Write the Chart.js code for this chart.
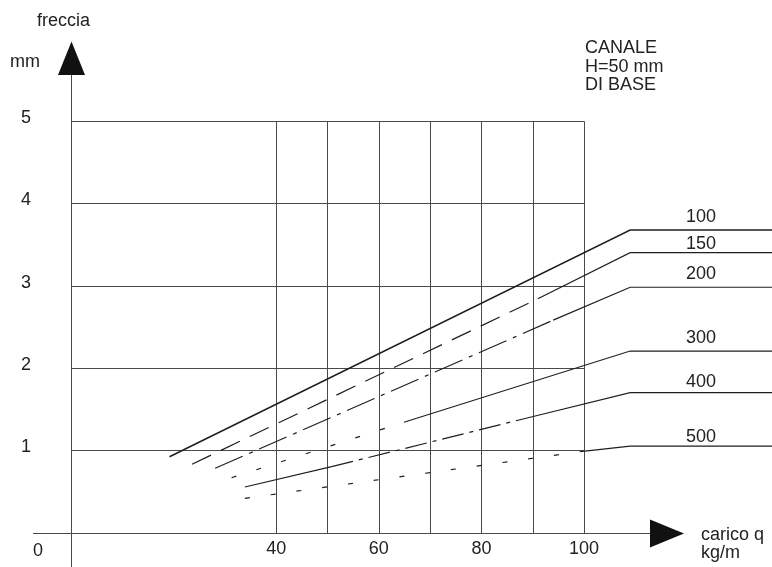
<!DOCTYPE html>
<html>
<head>
<meta charset="utf-8">
<script src="https://cdn.jsdelivr.net/npm/chart.js@4.4.0/dist/chart.umd.min.js"></script>
<style>
  html, body { margin: 0; padding: 0; background: #fff; }
  #wrap { width: 772px; height: 567px; }
</style>
</head>
<body>
<div id="wrap"><canvas id="chart" width="772" height="567"></canvas></div>
<script>
// Grid lines and tick labels (carico q in kg/m, freccia in mm)
const gridQ = [40, 50, 60, 70, 80, 90, 100];
const gridF = [1, 2, 3, 4, 5];
const tickQ = [40, 60, 80, 100];
const tickF = [1, 2, 3, 4, 5];

// One curve per span; the last point is the horizontal leader to the label
const spans = ['100', '150', '200', '300', '400', '500'];
const q100 = [19.2, 109.0, 137];
const f100 = [0.92, 3.675, 3.675];
const q150 = [23.6, 91.0, 109.0, 137];
const f150 = [0.83, 2.84, 3.40, 3.40];
const q200 = [28.1, 94.0, 109.0, 137];
const f200 = [0.78, 2.58, 2.98, 2.98];
const q300 = [31.3, 64.9, 109.0, 137];
const f300 = [0.666, 1.34, 2.205, 2.205];
const q400 = [33.9, 50.8, 90.1, 109.0, 137];
const f400 = [0.553, 0.80, 1.41, 1.70, 1.70];
const q500 = [33.9, 100.2, 109.0, 137];
const f500 = [0.415, 0.99, 1.05, 1.05];

const allQ = [q100, q150, q200, q300, q400, q500];
const allF = [f100, f150, f200, f300, f400, f500];

// Line styles
const SOLID = [];
const DASH = [21, 11];
const DASHDOT = [30, 7, 4, 7];
const DASHDOT2 = [22, 6, 4, 6];
const DOT = [5, 21];
const segDashes = [
    [SOLID, SOLID],
    [DASH, SOLID, SOLID],
    [DASHDOT, SOLID, SOLID],
    [DOT, SOLID, SOLID],
    [SOLID, DASHDOT2, SOLID, SOLID],
    [DOT, SOLID, SOLID]
];
const labelGap = [8, 4, 8, 8, 6, 4];
const FONT = '18px "Liberation Sans", Arial, Helvetica, sans-serif';
const INK = '#222';

const datasets = spans.map((name, i) => ({
    label: name,
    data: allQ[i].map((q, j) => ({ x: q, y: allF[i][j] })),
    borderColor: '#1e1e1e',
    borderWidth: i === 0 ? 1.5 : 1.2,
    pointRadius: 0,
    fill: false,
    tension: 0,
    segment: {
        borderDash: ctx => segDashes[i][ctx.p0DataIndex] || SOLID
    }
}));

function crisp(v) { return Math.round(v) + 0.5; }

const paperPlugin = {
    id: 'paper',
    beforeDatasetsDraw(chart) {
        const { ctx, scales: { x, y } } = chart;
        const x0 = crisp(x.getPixelForValue(0));
        const y0 = crisp(y.getPixelForValue(0));
        ctx.save();
        ctx.strokeStyle = '#4a4a4a';
        ctx.lineWidth = 1;
        ctx.beginPath();
        // horizontal grid
        gridF.forEach(v => {
            const py = crisp(y.getPixelForValue(v));
            ctx.moveTo(x0, py);
            ctx.lineTo(crisp(x.getPixelForValue(100)), py);
        });
        // vertical grid
        gridQ.forEach(v => {
            const px = crisp(x.getPixelForValue(v));
            ctx.moveTo(px, y0);
            ctx.lineTo(px, crisp(y.getPixelForValue(5)));
        });
        // axes
        ctx.moveTo(33, y0);
        ctx.lineTo(655, y0);
        ctx.moveTo(x0, 74);
        ctx.lineTo(x0, 567);
        ctx.stroke();

        // arrow heads
        ctx.fillStyle = '#111';
        ctx.beginPath();
        ctx.moveTo(x0, 41.5);
        ctx.lineTo(x0 - 13.5, 75);
        ctx.lineTo(x0 + 13.5, 75);
        ctx.closePath();
        ctx.fill();
        ctx.beginPath();
        ctx.moveTo(684, y0);
        ctx.lineTo(650, y0 - 14);
        ctx.lineTo(650, y0 + 14);
        ctx.closePath();
        ctx.fill();
        ctx.restore();
    },
    afterDraw(chart) {
        const { ctx, scales: { x, y } } = chart;
        ctx.save();
        ctx.font = FONT;
        ctx.fillStyle = INK;

        // axis titles
        ctx.textAlign = 'left';
        ctx.textBaseline = 'alphabetic';
        ctx.fillText('freccia', 37, 26);
        ctx.fillText('mm', 10, 67);
        ctx.fillText('carico q', 701, 540);
        ctx.fillText('kg/m', 701, 558);
        ctx.fillText('CANALE', 585, 53);
        ctx.fillText('H=50 mm', 585, 71.5);
        ctx.fillText('DI BASE', 585, 90);

        // tick labels
        ctx.textAlign = 'center';
        ctx.textBaseline = 'middle';
        tickF.forEach(v => ctx.fillText(String(v), 26, y.getPixelForValue(v) - 3));
        tickQ.forEach(v => ctx.fillText(String(v), x.getPixelForValue(v), 549));
        ctx.fillText('0', 38, 551);

        // span labels above the leaders
        ctx.textBaseline = 'alphabetic';
        spans.forEach((name, i) => {
            const qs = allQ[i], fs = allF[i];
            const n = qs.length;
            const px = (x.getPixelForValue(qs[n - 2]) + chart.chartArea.right) / 2;
            const py = y.getPixelForValue(fs[n - 1]) - labelGap[i];
            ctx.fillText(name, px, py);
        });
        ctx.restore();
    }
};

new Chart(document.getElementById('chart'), {
    type: 'line',
    data: { datasets },
    options: {
        responsive: false,
        animation: false,
        layout: { padding: 0 },
        plugins: {
            legend: { display: false },
            tooltip: { enabled: false }
        },
        scales: {
            x: { type: 'linear', min: -13.84, max: 136.65, display: false },
            y: { type: 'linear', min: -0.419, max: 6.47, display: false }
        }
    },
    plugins: [paperPlugin]
});
</script>
</body>
</html>
